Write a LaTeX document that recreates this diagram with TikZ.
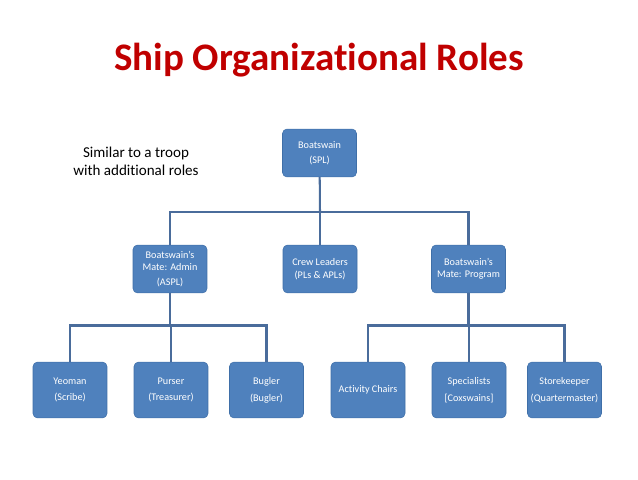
\documentclass[tikz,border=0pt]{standalone}
\usepackage{fontspec}
\setmainfont{Carlito}[Ligatures=NoCommon]
\usepackage{tikz}
\usetikzlibrary{positioning,calc}
\definecolor{shipred}{HTML}{C00000}
\definecolor{shipblue}{HTML}{4F81BD}
\definecolor{shipedge}{HTML}{3F6FA8}
\definecolor{shipline}{HTML}{4A6C9B}
\tikzset{
  rolebox/.style={draw=shipedge, line width=0.6pt, fill=shipblue, rounded corners=5pt,
    text=white, align=center, inner sep=1pt, minimum width=83.5pt,
    font=\fontsize{11.5}{13}\selectfont},
  midbox/.style={rolebox, minimum height=54pt},
  lowbox/.style={rolebox, minimum height=63pt},
  conn/.style={shipline, line width=2.3pt}
}

\begin{document}
\begin{tikzpicture}[x=1.1285pt, y=-1.1285pt]
\useasboundingbox (0,0) rectangle (638,479);

\node[shipred, font=\fontsize{44}{52}\selectfont\bfseries, anchor=base] (title) at (319,70) {Ship Organizational Roles};
\node[align=center, font=\fontsize{17}{20}\selectfont] (note) at (136,161) {Similar to a troop\\with additional roles};

% top and middle row
\node[midbox] (bosun) at (319.5,153) {Boatswain\\[4pt](SPL)};
\node[midbox] (admin) at (170,269) {Boatswain's\\Mate: Admin\\[4pt](ASPL)};
\node[midbox] (crew) at (320,269) {Crew Leaders\\[2pt](PLs \& APLs)};
\node[midbox] (program) at (468.5,269) {Boatswain's\\Mate: Program};

% bottom row
\node[lowbox] (yeoman) at (70,390) {Yeoman\\[6pt](Scribe)};
\node[lowbox] (purser) at (171,390) {Purser\\[6pt](Treasurer)};
\node[lowbox] (bugler) at (266.5,390) {Bugler\\[6pt](Bugler)};
\node[lowbox] (chairs) at (368,390) {Activity Chairs};
\node[lowbox] (special) at (469,390) {Specialists\\[6pt][Coxswains]};
\node[lowbox] (storekeep) at (564.5,390) {Storekeeper\\[6pt](Quartermaster)};

\coordinate (busA) at (320,212);
\coordinate (busB) at (170,325.5);
\coordinate (busC) at (468.5,325.5);

\draw[conn] (bosun) -- (busA);
\draw[conn] (admin.north) |- (busA) -| (program.north);
\draw[conn] (busA) -- (crew.north);

\draw[conn] (admin) -- (busB);
\draw[conn] (yeoman.north) |- (busB) -| (bugler.north);
\draw[conn] (purser.north |- busB) -- (purser.north);

\draw[conn] (program) -- (busC);
\draw[conn] (chairs.north) |- (busC) -| (storekeep.north);
\draw[conn] (special.north |- busC) -- (special.north);
\end{tikzpicture}
\end{document}
